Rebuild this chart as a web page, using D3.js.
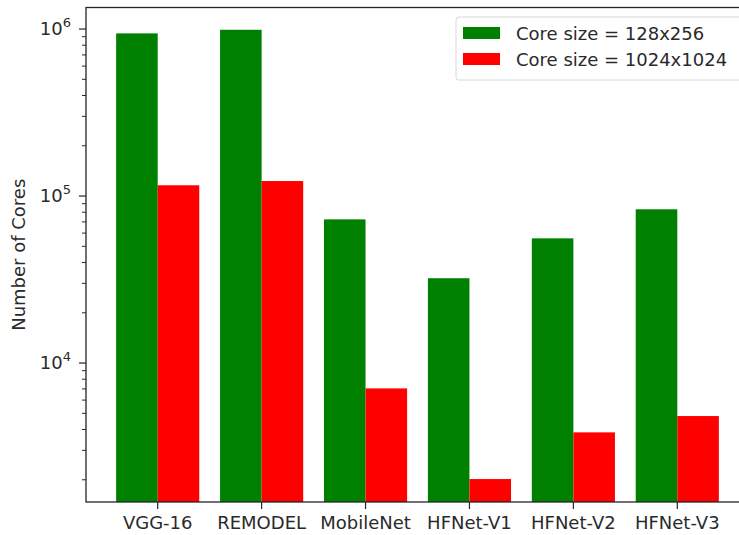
<!DOCTYPE html>
<html>
<head>
<meta charset="utf-8">
<script src="https://cdn.jsdelivr.net/npm/d3@7"></script>
<style>
  body { margin: 0; background: #fff; }
  svg { display: block; }
  text { font-family: "DejaVu Sans", sans-serif; fill: #2a2a2a; }
</style>
</head>
<body>
<div id="chart"></div>
<script>
const categories = ["VGG-16", "REMODEL", "MobileNet", "HFNet-V1", "HFNet-V2", "HFNet-V3"];
const seriesNames = ["Core size = 128x256", "Core size = 1024x1024"];
const small = [942000, 990000, 72500, 32200, 55800, 83300];
const large = [116000, 123000, 7050, 2020, 3845, 4815];
const seriesColors = ["#008000", "#ff0000"];
const majorTicks = [1e4, 1e5, 1e6];
const yLabel = "Number of Cores";

const width = 739, height = 535;
const margin = { top: 7.5, right: -10, bottom: 33, left: 86 };
const plotW = width - margin.left - margin.right;
const plotH = height - margin.top - margin.bottom;

const svg = d3.select("#chart").append("svg")
    .attr("width", width)
    .attr("height", height);

const g = svg.append("g")
    .attr("transform", `translate(${margin.left}, ${margin.top})`);

// bars sit at i -/+ 0.2 with width 0.4, plus matplotlib's 5% margin
const x = d3.scaleLinear()
    .domain([-0.69, categories.length - 1 + 0.69])
    .range([0, plotW]);

const y = d3.scaleLog()
    .domain([1472, 1.346e6])
    .range([plotH, 0]);

const barW = x(0.4) - x(0);
const series = [small, large];

series.forEach((values, s) => {
    g.append("g").selectAll("rect")
        .data(values)
        .join("rect")
        .attr("x", (d, i) => x(i + (s === 0 ? -0.4 : 0)))
        .attr("y", d => y(d))
        .attr("width", barW)
        .attr("height", d => plotH - y(d))
        .attr("fill", seriesColors[s]);
});

// minor ticks
const minorTicks = [];
for (let e = 3; e <= 6; e++) {
    for (let m = 2; m <= 9; m++) {
        const v = m * Math.pow(10, e);
        if (v > y.domain()[0] && v < y.domain()[1]) minorTicks.push(v);
    }
}

const yAxis = g.append("g");
yAxis.selectAll("line.minor")
    .data(minorTicks)
    .join("line")
    .attr("class", "minor")
    .attr("x1", -4).attr("x2", 0)
    .attr("y1", d => y(d)).attr("y2", d => y(d))
    .attr("stroke", "#262626").attr("stroke-width", 1);

yAxis.selectAll("line.major")
    .data(majorTicks)
    .join("line")
    .attr("class", "major")
    .attr("x1", -7).attr("x2", 0)
    .attr("y1", d => y(d)).attr("y2", d => y(d))
    .attr("stroke", "#262626").attr("stroke-width", 1.2);

const yLabels = yAxis.selectAll("text.tick")
    .data(majorTicks)
    .join("text")
    .attr("class", "tick")
    .attr("x", -15)
    .attr("y", d => y(d) + 6)
    .attr("text-anchor", "end")
    .attr("font-size", 18);
yLabels.append("tspan").text("10");
yLabels.append("tspan")
    .attr("dy", -8)
    .attr("font-size", 13)
    .text(d => Math.round(Math.log10(d)));

// x ticks and labels
const xAxis = g.append("g").attr("transform", `translate(0, ${plotH})`);
xAxis.selectAll("line")
    .data(categories)
    .join("line")
    .attr("x1", (d, i) => x(i)).attr("x2", (d, i) => x(i))
    .attr("y1", 0).attr("y2", 7)
    .attr("stroke", "#262626").attr("stroke-width", 1.2);
xAxis.selectAll("text")
    .data(categories)
    .join("text")
    .attr("x", (d, i) => x(i))
    .attr("y", 27)
    .attr("text-anchor", "middle")
    .attr("font-size", 18)
    .text(d => d);

// frame
g.append("rect")
    .attr("x", 0).attr("y", 0)
    .attr("width", plotW).attr("height", plotH)
    .attr("fill", "none")
    .attr("stroke", "#262626")
    .attr("stroke-width", 1.3);

// y label
svg.append("text")
    .attr("transform", `translate(25, ${margin.top + plotH / 2}) rotate(-90)`)
    .attr("text-anchor", "middle")
    .attr("font-size", 18)
    .text(yLabel);

// legend
const legend = svg.append("g").attr("transform", "translate(456, 17)");
legend.append("rect")
    .attr("width", 290).attr("height", 63)
    .attr("rx", 3)
    .attr("fill", "#fff")
    .attr("stroke", "#d8d8d8");
seriesNames.forEach((name, s) => {
    legend.append("rect")
        .attr("x", 7).attr("y", 10 + s * 26)
        .attr("width", 37).attr("height", 12)
        .attr("fill", seriesColors[s]);
    legend.append("text")
        .attr("x", 60).attr("y", 22.5 + s * 26)
        .attr("font-size", 18)
        .text(name);
});
</script>
</body>
</html>
